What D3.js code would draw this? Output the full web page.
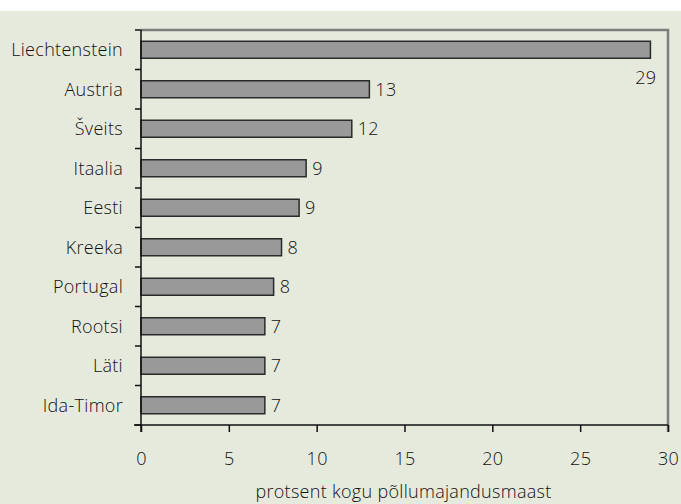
<!DOCTYPE html>
<html>
<head>
<meta charset="utf-8">
<script src="https://cdn.jsdelivr.net/npm/d3@7"></script>
<style>
  body { margin: 0; background: #fff; overflow: hidden; }
  svg { display: block; }
  svg text { font-family: "Open Sans", sans-serif; font-weight: 300; fill: #111; letter-spacing: 0.3px; }
</style>
</head>
<body>
<div id="chart"></div>
<script>
// data
var countries = ["Liechtenstein", "Austria", "Šveits", "Itaalia", "Eesti",
                 "Kreeka", "Portugal", "Rootsi", "Läti", "Ida-Timor"];
var shares = [29.0, 13.0, 12.0, 9.4, 9.0, 8.0, 7.55, 7.05, 7.05, 7.05];
var shareLabels = ["29", "13", "12", "9", "9", "8", "8", "7", "7", "7"];
var xTicks = [0, 5, 10, 15, 20, 25, 30];
var xTitle = "protsent kogu põllumajandusmaast";

var W = 681, H = 504;
var margin = {top: 30, right: 13, bottom: 79, left: 141}
    , width = W - margin.left - margin.right
    , height = H - margin.top - margin.bottom;
var fs = "18px";

var data = countries.map(function (c, i) {
    return {name: c, value: shares[i], label: shareLabels[i]};
});

var root = d3.select("#chart").append("svg")
    .attr("width", W)
    .attr("height", H);

// page background (white strip on top)
root.append("rect")
    .attr("x", 0).attr("y", 11)
    .attr("width", W).attr("height", H - 11)
    .attr("fill", "#e6eadd");

var svg = root.append("g")
    .attr("transform", "translate(" + margin.left + "," + margin.top + ")");

var x = d3.scaleLinear().domain([0, 30]).range([0, width]);
var y = d3.scaleBand().domain(countries).range([0, height]).paddingInner(0.57).paddingOuter(0.285);
var yEdge = d3.scaleBand().domain(countries).range([0, height]);

// frame top + right (gray)
svg.append("path")
    .attr("d", "M0,0H" + width + "V" + (height + 7))
    .attr("fill", "none")
    .attr("stroke", "#7d7d7d")
    .attr("stroke-width", 2.5);

// bars
svg.selectAll(".bar")
    .data(data)
    .enter()
    .append("rect")
    .attr("class", "bar")
    .attr("x", x(0))
    .attr("y", function (d) { return y(d.name); })
    .attr("width", function (d) { return x(d.value) - x(0); })
    .attr("height", y.bandwidth())
    .attr("fill", "#999999")
    .attr("stroke", "#2a2a2a")
    .attr("stroke-width", 1.5);

// value labels
svg.selectAll(".val")
    .data(data)
    .enter()
    .append("text")
    .attr("class", "val")
    .attr("x", function (d) { return x(d.value) + 6; })
    .attr("y", function (d, i) {
        return i === 0 ? y(d.name) + y.bandwidth() + 19 : y(d.name) + y.bandwidth() / 2;
    })
    .attr("dy", "0.35em")
    .attr("text-anchor", function (d, i) { return i === 0 ? "end" : "start"; })
    .style("font-size", fs)
    .text(function (d) { return d.label; });

// y axis with ticks between categories
svg.append("line")
    .attr("x1", 0).attr("x2", 0)
    .attr("y1", 0).attr("y2", height + 7)
    .attr("stroke", "#111").attr("stroke-width", 1.5);
svg.selectAll(".ytick")
    .data(countries.concat(["end"]))
    .enter()
    .append("line")
    .attr("x1", -6).attr("x2", 0)
    .attr("y1", function (d, i) { return i * yEdge.step(); })
    .attr("y2", function (d, i) { return i * yEdge.step(); })
    .attr("stroke", "#111").attr("stroke-width", 1.5);
svg.selectAll(".ylab")
    .data(countries)
    .enter()
    .append("text")
    .attr("x", -18)
    .attr("y", function (d) { return y(d) + y.bandwidth() / 2; })
    .attr("dy", "0.35em")
    .attr("text-anchor", "end")
    .style("font-size", fs)
    .text(function (d) { return d; });

// x axis
var xAxis = svg.append("g")
    .attr("transform", "translate(0," + height + ")")
    .call(d3.axisBottom(x).tickValues(xTicks).tickSize(7).tickPadding(20));
xAxis.select(".domain")
    .attr("d", "M-7,0H" + width)
    .attr("stroke", "#111").attr("stroke-width", 1.5);
xAxis.selectAll(".tick line").attr("stroke", "#111").attr("stroke-width", 1.5);
xAxis.selectAll(".tick text")
    .style("font-size", fs)
    .style("font-family", "'Open Sans', sans-serif")
    .style("font-weight", 300)
    .attr("fill", "#111");

svg.append("text")
    .attr("x", width / 2 - 1)
    .attr("y", height + 73)
    .attr("text-anchor", "middle")
    .style("font-size", fs)
    .text(xTitle);
</script>
</body>
</html>
